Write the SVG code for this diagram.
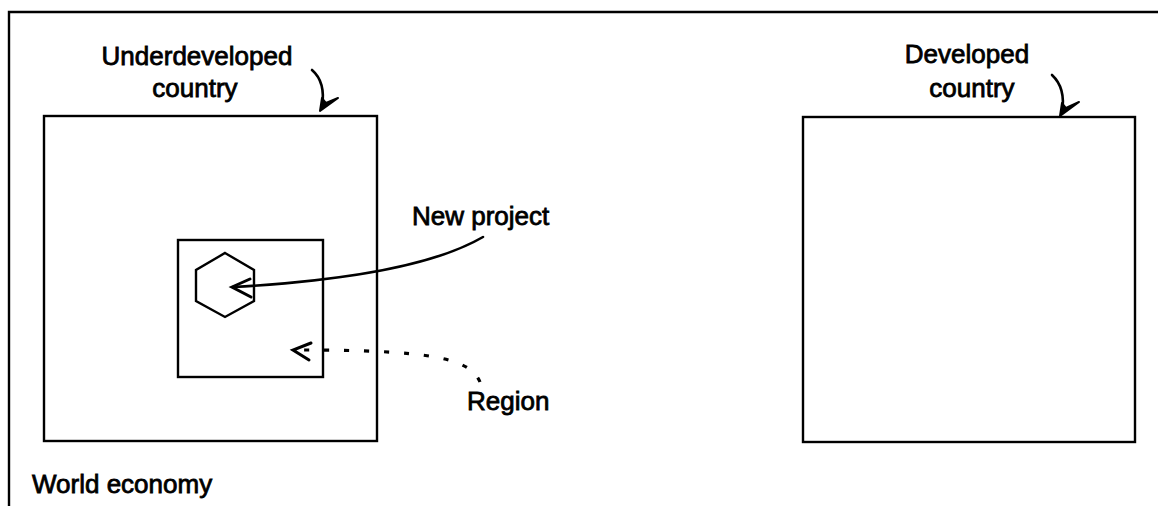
<svg xmlns="http://www.w3.org/2000/svg" width="1158" height="506" viewBox="0 0 1158 506">
<style>
.box{fill:none;stroke:#000;stroke-width:2.4}
.ln{fill:none;stroke:#000;stroke-width:2.6;stroke-linecap:round;stroke-linejoin:round}
.dash{fill:none;stroke:#000;stroke-width:3.2;stroke-dasharray:5 15}
.head{fill:none;stroke:#000;stroke-width:3;stroke-linecap:round;stroke-linejoin:miter}
.fillhead{fill:#000;stroke:#000;stroke-width:2;stroke-linejoin:round}
text{font-family:"Liberation Sans",Arial,sans-serif;font-size:26px;fill:#000;stroke:#000;stroke-width:0.8}
</style>
<rect width="1158" height="506" fill="#fff"/>
<g id="world-economy">
<path class="box" d="M9,506 V12 H1158"/>
<text x="32" y="493">World economy</text>
</g>
<g id="underdeveloped-country">
<rect class="box" x="44" y="116" width="333" height="325"/>
<text x="197" y="65" text-anchor="middle">Underdeveloped</text>
<text x="195" y="97" text-anchor="middle">country</text>
</g>
<g id="region">
<rect class="box" x="178" y="240" width="145" height="137"/>
<text x="467" y="410">Region</text>
</g>
<g id="new-project">
<polygon class="box" points="225,253 254,270 254,301 225,317 196,301 196,270"/>
<text x="412" y="225">New project</text>
</g>
<g id="developed-country">
<rect class="box" x="803" y="117" width="332" height="325"/>
<text x="967" y="63" text-anchor="middle">Developed</text>
<text x="972" y="97" text-anchor="middle">country</text>
</g>
<g id="connectors">
<path class="ln" d="M312,70 Q326,82 322,107"/>
<path class="fillhead" d="M320,111 L322,98 L326,103 L338,98 Z"/>
<path class="ln" d="M1052,75 Q1066,88 1062,112"/>
<path class="fillhead" d="M1060,116 L1062,103 L1066,108 L1079,102 Z"/>
<path class="ln" d="M483,237 C440,262 360,280 233,287"/>
<path class="head" d="M250,279 L232,287 L251,297"/>
<path class="dash" d="M480,382 C470,358 430,350 300,350"/>
<path class="head" d="M311,343 L293,350 L309,360"/>
</g>
</svg>
